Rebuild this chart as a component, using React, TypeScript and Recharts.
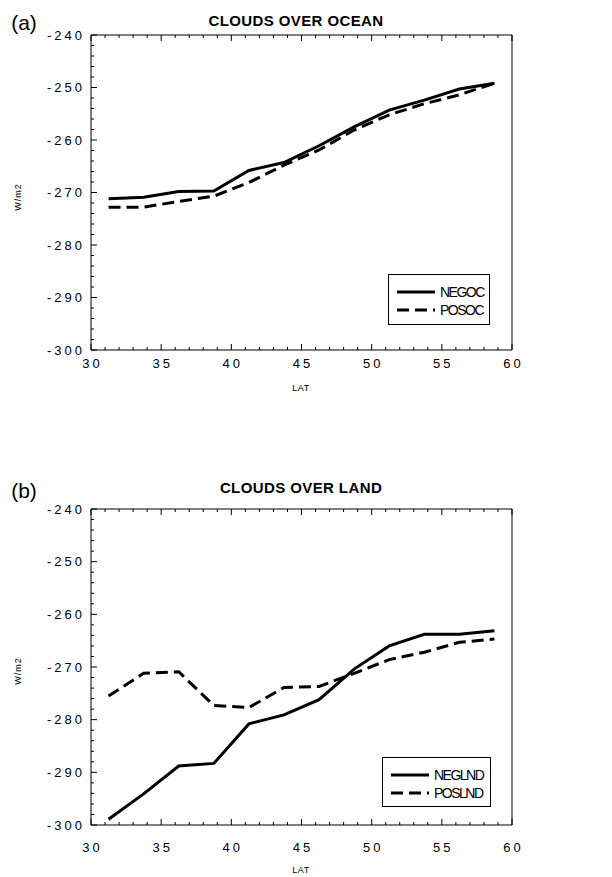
import React from 'react';
import { LineChart, Line, XAxis, YAxis, Legend } from 'recharts';

// latitude of each point (deg N)
const lat = [31.25, 33.75, 36.25, 38.75, 41.25, 43.75, 46.25, 48.75, 51.25, 53.75, 56.25, 58.75];

// (a) clouds over ocean, W/m2
const negoc = [-271.2, -270.9, -269.8, -269.7, -265.8, -264.3, -261.1, -257.5, -254.3, -252.4, -250.3, -249.2];
const posoc = [-272.8, -272.8, -271.7, -270.7, -268.1, -264.8, -261.9, -258.1, -255.2, -253.1, -251.4, -249.2];

// (b) clouds over land, W/m2
const neglnd = [-298.9, -294.1, -288.8, -288.3, -280.8, -279.1, -276.2, -270.4, -266.0, -263.8, -263.8, -263.1];
const poslnd = [-275.5, -271.2, -270.9, -277.3, -277.7, -273.9, -273.7, -271.2, -268.6, -267.2, -265.3, -264.7];

const xMajor = [30, 35, 40, 45, 50, 55, 60];
const yMajor = [-300, -290, -280, -270, -260, -250, -240];
const xMinor = Array.from({ length: 31 }, (_, i) => 30 + i);
const yMinor = Array.from({ length: 31 }, (_, i) => -300 + i * 2);

const FONT = '"Liberation Sans", Arial, Helvetica, sans-serif';
const DASH = '12 6';

const oceanData = lat.map((l, i) => ({ lat: l, a: negoc[i], b: posoc[i] }));
const landData = lat.map((l, i) => ({ lat: l, a: neglnd[i], b: poslnd[i] }));

const tickText = { fontFamily: FONT, fontSize: 13, letterSpacing: 3, fill: '#000' } as const;

const BottomTick = ({ x, y, payload, labelDy }: any) => {
  const major = xMajor.includes(payload.value);
  return (
    <g>
      <line x1={x} x2={x} y1={y} y2={y - (major ? 6 : 3)} stroke="#000" strokeWidth={1} />
      {major && (
        <text x={x + 1.5} y={y + labelDy} textAnchor="middle" dy="0.35em" style={tickText}>
          {payload.value}
        </text>
      )}
    </g>
  );
};

const TopTick = ({ x, y, payload }: any) => {
  const major = xMajor.includes(payload.value);
  return <line x1={x} x2={x} y1={y} y2={y + (major ? 6 : 3)} stroke="#000" strokeWidth={1} />;
};

const LeftTick = ({ x, y, payload }: any) => {
  const major = yMajor.includes(payload.value);
  return (
    <g>
      <line x1={x} x2={x + (major ? 6 : 3)} y1={y} y2={y} stroke="#000" strokeWidth={1} />
      {major && (
        <text x={x - 6} y={y} textAnchor="end" dy="0.35em" style={tickText}>
          {payload.value}
        </text>
      )}
    </g>
  );
};

const RightTick = ({ x, y, payload }: any) => {
  const major = yMajor.includes(payload.value);
  return <line x1={x} x2={x - (major ? 6 : 3)} y1={y} y2={y} stroke="#000" strokeWidth={1} />;
};

const LegendBox = ({ payload }: any) => (
  <div style={{ border: '1px solid #000', background: '#fff', boxSizing: 'border-box', width: '100%', height: '100%', padding: '8px 0 0 8px' }}>
    {(payload || []).map((e: any) => (
      <div key={e.value} style={{ display: 'flex', alignItems: 'center', height: 18 }}>
        <svg width={40} height={6} style={{ display: 'block' }}>
          <line x1={0} x2={38} y1={3} y2={3} stroke="#000" strokeWidth={3} strokeDasharray={e.payload?.strokeDasharray} />
        </svg>
        <span style={{ fontFamily: FONT, fontSize: 14, letterSpacing: -1.5, lineHeight: '18px', marginLeft: 3 }}>{e.value}</span>
      </div>
    ))}
  </div>
);

interface PanelProps {
  top: number;
  height: number;
  tag: string;
  title: string;
  data: { lat: number; a: number; b: number }[];
  names: [string, string];
  plotTop: number;
  plotBottom: number;
  labelDy: number;
  titleY: number;
  tagY: number;
  latY: number;
  titleX: number;
  legend: { left: number; top: number; width: number; height: number };
}

const abs = (left: number, top: number): React.CSSProperties => ({
  position: 'absolute',
  left,
  top,
  transform: 'translate(-50%, -50%)',
  whiteSpace: 'nowrap',
  fontFamily: FONT,
  lineHeight: 1,
});

// axis bands: ticks are drawn by hand from the axis line, so the band sizes only move the plot edges
const X_H = 30;
const XT_H = 10;
const Y_W = 60;
const YR_W = 10;

function Panel(p: PanelProps) {
  const mid = (p.plotTop + p.plotBottom) / 2;
  return (
    <div style={{ position: 'absolute', left: 0, top: p.top, width: 612, height: p.height }}>
      <LineChart
        width={612}
        height={p.height}
        data={p.data}
        margin={{ top: p.plotTop - XT_H, right: 100 - YR_W, bottom: p.height - p.plotBottom - X_H, left: 91 - Y_W }}
      >
        <XAxis
          dataKey="lat"
          type="number"
          domain={[30, 60]}
          ticks={xMinor}
          interval={0}
          height={X_H}
          tickSize={0}
          tickMargin={0}
          tickLine={false}
          axisLine={{ stroke: '#000', strokeWidth: 1 }}
          tick={(t: any) => <BottomTick {...t} labelDy={p.labelDy} />}
        />
        <XAxis
          xAxisId="top"
          orientation="top"
          dataKey="lat"
          type="number"
          domain={[30, 60]}
          ticks={xMinor}
          interval={0}
          height={XT_H}
          tickSize={0}
          tickMargin={0}
          tickLine={false}
          axisLine={{ stroke: '#000', strokeWidth: 1 }}
          tick={(t: any) => <TopTick {...t} />}
        />
        <YAxis
          type="number"
          domain={[-300, -240]}
          ticks={yMinor}
          interval={0}
          width={Y_W}
          tickSize={0}
          tickMargin={0}
          tickLine={false}
          axisLine={{ stroke: '#000', strokeWidth: 1 }}
          tick={(t: any) => <LeftTick {...t} />}
        />
        <YAxis
          yAxisId="right"
          orientation="right"
          type="number"
          domain={[-300, -240]}
          ticks={yMinor}
          interval={0}
          width={YR_W}
          tickSize={0}
          tickMargin={0}
          tickLine={false}
          axisLine={{ stroke: '#000', strokeWidth: 1 }}
          tick={(t: any) => <RightTick {...t} />}
        />
        <Line dataKey="a" name={p.names[0]} stroke="#000" strokeWidth={3} dot={false} isAnimationActive={false} />
        <Line dataKey="b" name={p.names[1]} stroke="#000" strokeWidth={3} strokeDasharray={DASH} dot={false} isAnimationActive={false} />
        <Legend
          layout="vertical"
          align="center"
          verticalAlign="middle"
          content={<LegendBox />}
          wrapperStyle={{ position: 'absolute', left: p.legend.left, top: p.legend.top, width: p.legend.width, height: p.legend.height }}
        />
      </LineChart>
      <div style={{ ...abs(24, p.tagY), fontSize: 21 }}>{p.tag}</div>
      <div style={{ ...abs(p.titleX, p.titleY), fontSize: 15, fontWeight: 'bold', letterSpacing: 0.4 }}>{p.title}</div>
      <div style={{ ...abs(18, mid + 4), fontSize: 9, letterSpacing: 1, transform: 'translate(-50%, -50%) rotate(-90deg)' }}>W/m2</div>
      <div style={{ ...abs(301, p.latY), fontSize: 9, letterSpacing: 0.5 }}>LAT</div>
    </div>
  );
}

export default function App() {
  return (
    <div style={{ position: 'absolute', left: 0, top: 0, width: 612, height: 877, background: '#fff' }}>
      <Panel
        top={0}
        height={440}
        tag="(a)"
        title="CLOUDS OVER OCEAN"
        data={oceanData}
        names={['NEGOC', 'POSOC']}
        plotTop={35}
        plotBottom={350}
        labelDy={13}
        titleY={20}
        tagY={22}
        latY={388}
        titleX={296}
        legend={{ left: 388, top: 274, width: 102, height: 51 }}
      />
      <Panel
        top={440}
        height={437}
        tag="(b)"
        title="CLOUDS OVER LAND"
        data={landData}
        names={['NEGLND', 'POSLND']}
        plotTop={69}
        plotBottom={385}
        labelDy={22}
        titleY={47}
        tagY={50}
        latY={430}
        titleX={301}
        legend={{ left: 382, top: 317, width: 109, height: 50 }}
      />
    </div>
  );
}
